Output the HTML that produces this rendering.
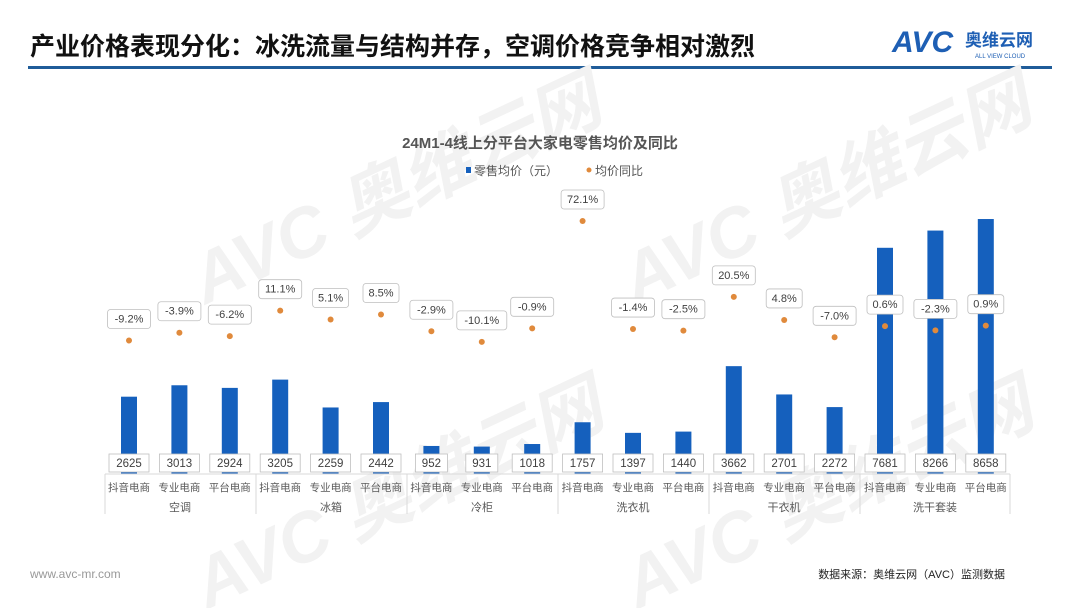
<!DOCTYPE html>
<html><head><meta charset="utf-8"><style>
body{margin:0;width:1080px;height:608px;background:#fff;overflow:hidden;font-family:"Liberation Sans","Noto Sans CJK SC",sans-serif}
</style></head><body>
<svg width="1080" height="608" viewBox="0 0 1080 608" xmlns="http://www.w3.org/2000/svg" font-family="Liberation Sans, Noto Sans CJK SC, sans-serif">
<text x="30" y="55" font-size="25" font-weight="bold" fill="#111">产业价格表现分化：冰洗流量与结构并存，空调价格竞争相对激烈</text>
<text x="892" y="52" font-size="30" font-weight="bold" font-style="italic" fill="#1e5fb4">AVC</text>
<text x="965" y="46" font-size="17" font-weight="bold" fill="#1e5fb4">奥维云网</text>
<text x="975" y="58" font-size="6" fill="#1e5fb4">ALL VIEW CLOUD</text>
<rect x="28" y="66" width="1024" height="3" fill="#1f5c99"/>
<g fill="#f2f2f2" font-weight="bold">
<text x="170" y="255" font-size="70" font-style="italic" transform="rotate(-25 300 200)">AVC 奥维云网</text>
<text x="600" y="255" font-size="70" font-style="italic" transform="rotate(-25 730 200)">AVC 奥维云网</text>
<text x="170" y="560" font-size="70" font-style="italic" transform="rotate(-25 300 500)">AVC 奥维云网</text>
<text x="600" y="560" font-size="70" font-style="italic" transform="rotate(-25 730 500)">AVC 奥维云网</text>
</g>
<text x="540" y="148" font-size="15" font-weight="bold" fill="#555" text-anchor="middle">24M1-4线上分平台大家电零售均价及同比</text>
<rect x="466" y="167" width="5" height="6" fill="#1560bd"/>
<text x="474" y="175" font-size="12" fill="#555">零售均价（元）</text>
<circle cx="589" cy="170" r="2.5" fill="#e08a3c"/>
<text x="595" y="175" font-size="12" fill="#555">均价同比</text>
<g id="c"></g>
<line x1="105" y1="474" x2="1010" y2="474" stroke="#d9d9d9"/>
<g stroke="#d9d9d9"><line x1="105" y1="474" x2="105" y2="514"/><line x1="256" y1="474" x2="256" y2="514"/><line x1="407" y1="474" x2="407" y2="514"/><line x1="558" y1="474" x2="558" y2="514"/><line x1="709" y1="474" x2="709" y2="514"/><line x1="860" y1="474" x2="860" y2="514"/><line x1="1010" y1="474" x2="1010" y2="514"/></g>
<g font-size="11" fill="#595959" text-anchor="middle">
<text x="180" y="511">空调</text><text x="331" y="511">冰箱</text><text x="482" y="511">冷柜</text><text x="633" y="511">洗衣机</text><text x="784" y="511">干衣机</text><text x="935" y="511">洗干套装</text>
</g>
<text x="30" y="578" font-size="12" fill="#999">www.avc-mr.com</text>
<text x="1005" y="578" font-size="11" fill="#222" text-anchor="end">数据来源：奥维云网（AVC）监测数据</text>
</svg>
<script>
const v=[2625,3013,2924,3205,2259,2442,952,931,1018,1757,1397,1440,3662,2701,2272,7681,8266,8658];
const p=[-9.2,-3.9,-6.2,11.1,5.1,8.5,-2.9,-10.1,-0.9,72.1,-1.4,-2.5,20.5,4.8,-7.0,0.6,-2.3,0.9];
const n=["抖音电商","专业电商","平台电商"];
let s="";
for(let i=0;i<18;i++){
 const x=129+i*50.4, h=v[i]*0.02945;
 s+=`<rect x="${x-8}" y="${474-h}" width="16" height="${h}" fill="#1560bd"/>`;
 const w=String(v[i]).length*8+8;
 s+=`<rect x="${x-w/2}" y="454" width="${w}" height="18" fill="#fff" stroke="#bfbfbf" stroke-width="0.8"/>`;
 s+=`<text x="${x}" y="467" font-size="11.5" fill="#404040" text-anchor="middle">${v[i]}</text>`;
 s+=`<text x="${x}" y="491" font-size="10.5" fill="#595959" text-anchor="middle">${n[i%3]}</text>`;
 const cy=327-1.47*p[i];
 s+=`<circle cx="${x}" cy="${cy}" r="3" fill="#e08a3c"/>`;
 const t=p[i].toFixed(1)+"%", tw=t.length*7+8;
 s+=`<rect x="${x-tw/2}" y="${cy-31}" width="${tw}" height="19" rx="3" fill="#fff" stroke="#bfbfbf" stroke-width="0.8"/>`;
 s+=`<text x="${x}" y="${cy-18}" font-size="11" fill="#404040" text-anchor="middle">${t}</text>`;
}
document.getElementById("c").innerHTML=s;
</script>
</body></html>
